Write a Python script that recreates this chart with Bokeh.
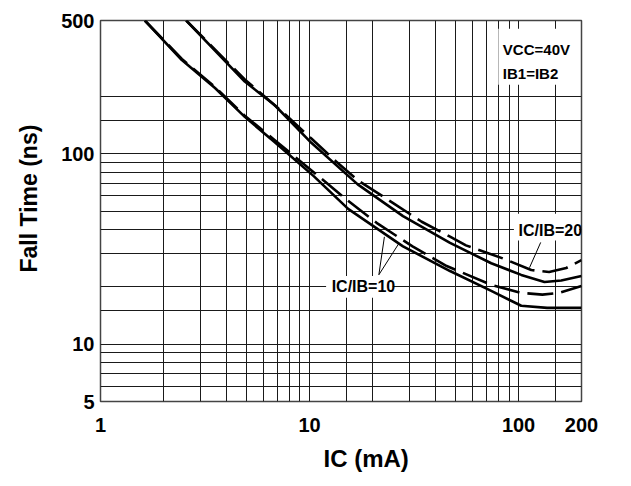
from bokeh.plotting import figure
from bokeh.models import FixedTicker, Label, BoxAnnotation, NumeralTickFormatter, Title
from bokeh.embed import file_html
from bokeh.resources import INLINE

# ---------------- data ----------------
# upper pair of curves (IC/IB = 20): solid and dashed
ic_s20 = [2.57, 4.9, 6.8, 10.2, 17, 28, 47, 74, 103, 133, 160, 200]
tf_s20 = [500, 239, 180, 114, 69, 47, 34, 26.6, 23.1, 21.2, 21.6, 22.8]
ic_d20 = [2.57, 4.9, 7.4, 10.2, 13.4, 17, 24.7, 34.4, 47, 56, 84, 115, 140, 169, 200]
tf_d20 = [500, 245, 166, 120, 91, 72.5, 55.7, 43.9, 36.7, 33.0, 28.2, 24.5, 23.9, 25.1, 27.6]
# lower pair of curves (IC/IB = 10): solid and dashed
ic_s10 = [1.63, 2.45, 3.53, 4.9, 6.8, 10.5, 15.3, 28, 47, 74, 103, 137, 200]
tf_s10 = [500, 310, 221, 156, 115, 76, 51.3, 32.6, 24.2, 19.05, 15.9, 15.5, 15.5]
ic_d10 = [1.63, 2.45, 3.53, 4.9, 6.8, 10.5, 14.9, 21.2, 31.1, 45.3, 74, 102, 130, 157, 200]
tf_d10 = [500, 314, 224, 158, 118, 79.7, 57.8, 42.9, 32.6, 25.7, 20.5, 18.6, 18.2, 18.6, 20.2]

# axis ticks
x_major = [1, 10, 100, 200]
x_minor = [2, 3, 4, 5, 6, 7, 8, 9, 15, 20, 30, 40, 50, 60, 70, 80, 90, 150]
y_major = [5, 10, 100, 500]
y_minor = [6, 7, 8, 9, 15, 20, 30, 40, 50, 60, 70, 80, 90, 150, 200]

FONT = "Liberation Sans"

p = figure(width=630, height=486, x_axis_type="log", y_axis_type="log",
           x_range=(1, 200), y_range=(5, 500),
           output_backend="svg", toolbar_location=None,
           min_border_left=100, min_border_right=49,
           min_border_top=20, min_border_bottom=85)
p.background_fill_color = "white"
p.border_fill_color = "white"
p.outline_line_color = "#444444"
p.outline_line_width = 1.5

xt = FixedTicker(ticks=x_major, minor_ticks=x_minor)
yt = FixedTicker(ticks=y_major, minor_ticks=y_minor)
p.xaxis.ticker = xt
p.yaxis.ticker = yt
p.xgrid.ticker = xt
p.ygrid.ticker = yt
p.xaxis.formatter = NumeralTickFormatter(format="0")
p.yaxis.formatter = NumeralTickFormatter(format="0")

for ax in (p.xaxis, p.yaxis):
    ax.axis_line_color = None
    ax.major_tick_line_color = None
    ax.minor_tick_line_color = None
    ax.major_label_text_font = FONT
    ax.major_label_text_font_style = "bold"
    ax.major_label_text_font_size = "20px"
    ax.major_label_text_color = "black"
p.xaxis.major_label_standoff = 10
p.yaxis.major_label_standoff = 0

for g in (p.xgrid, p.ygrid):
    g.grid_line_color = "#1a1a1a"
    g.grid_line_width = 1
    g.minor_grid_line_color = "#1a1a1a"
    g.minor_grid_line_width = 1

# white backgrounds behind the annotations
for l, r, t, b in [(80, 178, 452, 230), (95, 195, 48.3, 35), (12.0, 25.0, 22.8, 17.5)]:
    p.add_layout(BoxAnnotation(left=l, right=r, top=t, bottom=b,
                               fill_color="white", fill_alpha=1.0, line_alpha=0))

# curves
p.line(ic_s10, tf_s10, line_width=2.6, line_color="black")
p.line(ic_d10, tf_d10, line_width=2.6, line_color="black", line_dash="26 8")
p.line(ic_s20, tf_s20, line_width=2.6, line_color="black")
p.line(ic_d20, tf_d20, line_width=2.6, line_color="black", line_dash="26 8")

# leader lines
p.segment(x0=[21.46, 21.46, 127.6], y0=[23.13, 23.13, 34.2],
          x1=[22.81, 26.75, 112.8], y1=[36.58, 33.77, 25.2],
          line_color="black", line_width=1)

def lab(x, y, text, size):
    p.add_layout(Label(x=x, y=y, text=text, text_font=FONT, text_font_style="bold",
                       text_font_size=size, text_color="black", text_align="left",
                       text_baseline="middle"))

lab(84.1, 351, "VCC=40V", "15px")
lab(84.1, 265, "IB1=IB2", "15px")
lab(100, 39.7, "IC/IB=20", "16px")
lab(12.76, 20.0, "IC/IB=10", "16px")

# axis titles
p.add_layout(Title(text="IC (mA)", text_font=FONT, text_font_style="bold",
                   text_font_size="24px", text_color="black", align="left",
                   offset=223, standoff=21, vertical_align="top"), "below")
p.add_layout(Title(text="Fall Time (ns)", text_font=FONT, text_font_style="bold",
                   text_font_size="23px", text_color="black", align="left",
                   offset=129, standoff=29, vertical_align="top"), "left")

open("out.html", "w").write(file_html(p, INLINE))
